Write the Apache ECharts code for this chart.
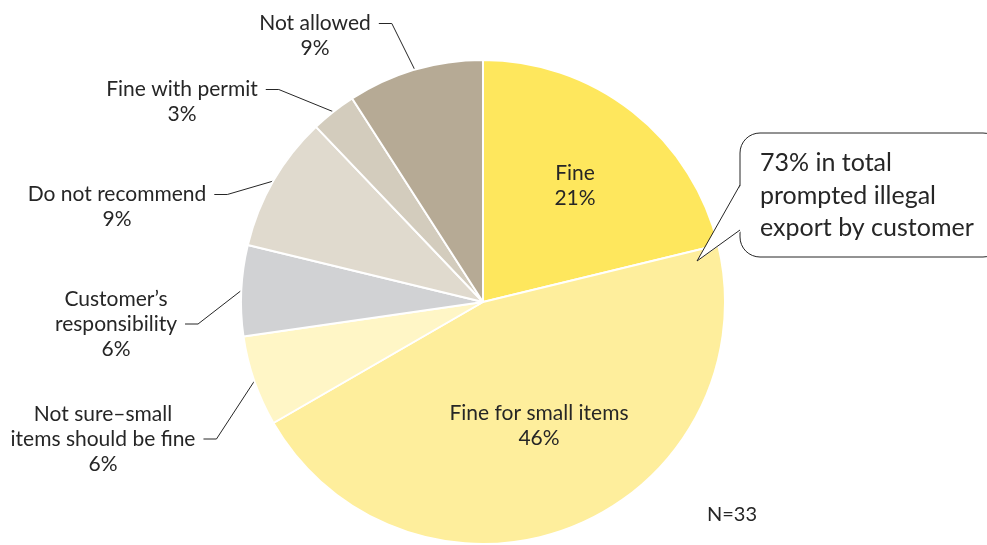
<!DOCTYPE html>
<html>
<head>
<meta charset="utf-8">
<script src="https://cdn.jsdelivr.net/npm/echarts@6/dist/echarts.min.js"></script>
<style>
  html, body { margin: 0; padding: 0; background: #ffffff; }
  #chart { width: 987px; height: 545px; }
</style>
</head>
<body>
<div id="chart"></div>
<script>
// ---- data ----
const categories = [
  'Fine',
  'Fine for small items',
  'Not sure\u2013small\nitems should be fine',
  'Customer\u2019s\nresponsibility',
  'Do not recommend',
  'Fine with permit',
  'Not allowed'
];
const counts = [7, 15, 2, 2, 3, 1, 3];   // N = 33
const sampleNote = 'N=33';
const calloutLines = ['73% in total', 'prompted illegal', 'export by customer'];

// ---- styles / layout ----
const colors = ['#FEE75D', '#FEEE9C', '#FFF6C6', '#D1D2D4', '#E0DACE', '#D3CCBD', '#B6AA95'];
const insideItems = [true, true, false, false, false, false, false];
const FONT = 'Lato';
const FS = 21;
const LH = 25;
const CX = 483, CY = 302, R = 242;
// label block centres, and which text line the leader attaches to
const labelPos = [
  [575, 186, null],
  [539, 426, null],
  [103, 439, 1],
  [116, 324, 1],
  [117, 207, 0],
  [182, 102, 0],
  [315, 36, 0]
];

const total = counts.reduce((a, b) => a + b, 0);
function midAngle(i) {
  let cum = 0;
  for (let k = 0; k < i; k++) cum += counts[k];
  return (cum + counts[i] / 2) / total * Math.PI * 2;
}

const chart = echarts.init(document.getElementById('chart'), null, { renderer: 'canvas' });

const seriesData = categories.map((name, i) => ({
  name: name,
  value: counts[i],
  itemStyle: { color: colors[i] },
  label: { position: insideItems[i] ? 'inside' : 'outside' },
  labelLine: { show: !insideItems[i] }
}));

const option = {
  animation: false,
  backgroundColor: '#ffffff',
  series: [{
    type: 'pie',
    center: [CX, CY],
    radius: [0, R],
    startAngle: 90,
    clockwise: true,
    avoidLabelOverlap: false,
    percentPrecision: 0,
    emphasis: { disabled: true },
    itemStyle: { borderColor: '#ffffff', borderWidth: 2 },
    label: {
      show: true,
      formatter: '{b}\n{d}%',
      color: '#262626',
      fontFamily: FONT,
      fontSize: FS,
      lineHeight: LH,
      align: 'center'
    },
    labelLine: {
      show: true,
      lineStyle: { color: '#262626', width: 1 }
    },
    labelLayout: function (params) {
      const idx = params.dataIndex;
      const p = labelPos[idx];
      const x = p[0], y = p[1], k = p[2];
      if (k === null) {
        return { x: x, y: y, align: 'center', verticalAlign: 'middle' };
      }
      const w = params.labelRect.width;
      const h = params.labelRect.height;
      const ay = y - h / 2 + LH * (k + 0.5);
      const ax = x + w / 2 + 8;
      const ex = ax + 13;
      const a = midAngle(idx);
      const px = CX + R * Math.sin(a);
      const py = CY - R * Math.cos(a);
      return {
        x: x, y: y, align: 'center', verticalAlign: 'middle',
        labelLinePoints: [[px, py], [ex, ay], [ax, ay]]
      };
    },
    data: seriesData
  }],
  graphic: [
    {
      type: 'rect',
      shape: { x: 740, y: 133, width: 263, height: 124, r: 20 },
      style: { fill: '#ffffff', stroke: '#262626', lineWidth: 1 },
      z: 100
    },
    {
      type: 'polygon',
      shape: { points: [[741.5, 184], [697, 261], [741.5, 231]] },
      style: { fill: '#ffffff', stroke: null },
      z: 101
    },
    {
      type: 'polyline',
      shape: { points: [[740, 185], [697, 261], [740, 230]] },
      style: { fill: null, stroke: '#262626', lineWidth: 1 },
      z: 102
    },
    {
      type: 'text',
      left: 760,
      top: 147,
      style: {
        text: calloutLines.join('\n'),
        fill: '#262626',
        font: '25px ' + FONT,
        lineHeight: 32.5
      },
      z: 103
    },
    {
      type: 'text',
      left: 707,
      top: 505,
      style: {
        text: sampleNote,
        fill: '#262626',
        font: '20px ' + FONT
      },
      z: 103
    }
  ]
};

chart.setOption(option);
</script>
</body>
</html>
